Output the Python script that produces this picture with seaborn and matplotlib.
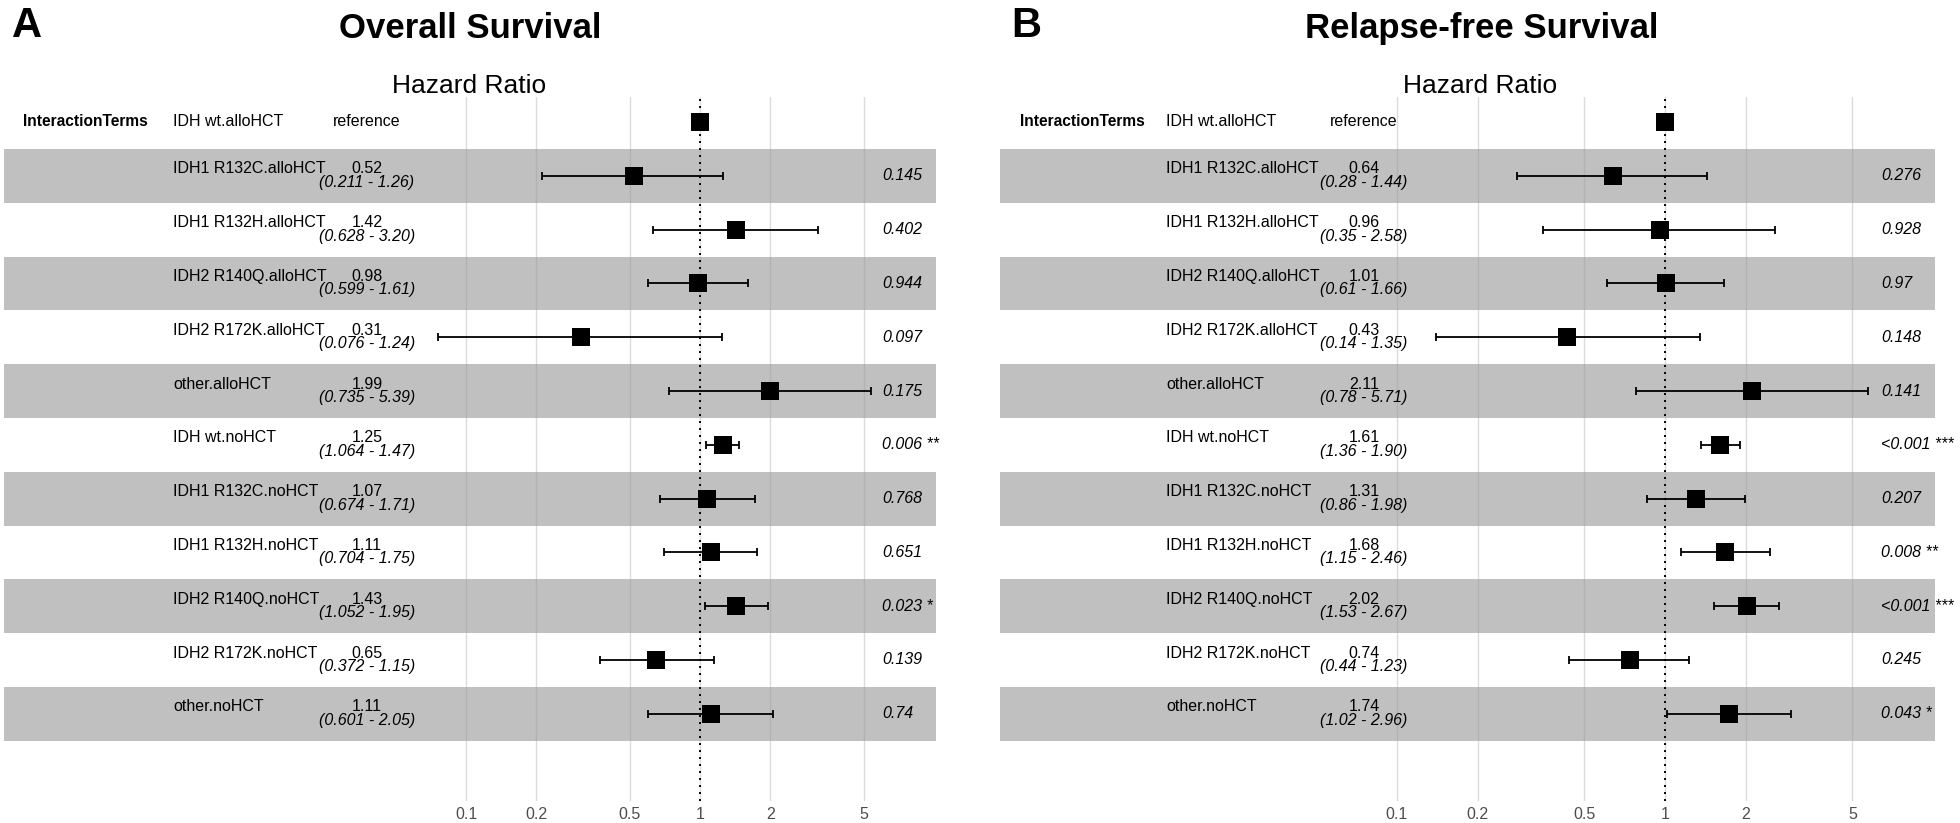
import numpy as np
import pandas as pd
import matplotlib
matplotlib.use('Agg')
import matplotlib.pyplot as plt
import matplotlib.transforms as mtransforms
from matplotlib.ticker import NullLocator
import seaborn as sns


TERMS = ["IDH wt.alloHCT", "IDH1 R132C.alloHCT", "IDH1 R132H.alloHCT", "IDH2 R140Q.alloHCT",
         "IDH2 R172K.alloHCT", "other.alloHCT", "IDH wt.noHCT", "IDH1 R132C.noHCT",
         "IDH1 R132H.noHCT", "IDH2 R140Q.noHCT", "IDH2 R172K.noHCT", "other.noHCT"]
REF_HR = 1.0

# overall survival (first term is the reference)
os_hr = ["0.52", "1.42", "0.98", "0.31", "1.99", "1.25", "1.07", "1.11", "1.43", "0.65", "1.11"]
os_lo = ["0.211", "0.628", "0.599", "0.076", "0.735", "1.064", "0.674", "0.704", "1.052", "0.372", "0.601"]
os_hi = ["1.26", "3.20", "1.61", "1.24", "5.39", "1.47", "1.71", "1.75", "1.95", "1.15", "2.05"]
os_p = ["0.145", "0.402", "0.944", "0.097", "0.175", "0.006 **", "0.768", "0.651", "0.023 *", "0.139", "0.74"]

# relapse-free survival
rfs_hr = ["0.64", "0.96", "1.01", "0.43", "2.11", "1.61", "1.31", "1.68", "2.02", "0.74", "1.74"]
rfs_lo = ["0.28", "0.35", "0.61", "0.14", "0.78", "1.36", "0.86", "1.15", "1.53", "0.44", "1.02"]
rfs_hi = ["1.44", "2.58", "1.66", "1.35", "5.71", "1.90", "1.98", "2.46", "2.67", "1.23", "2.96"]
rfs_p = ["0.276", "0.928", "0.97", "0.148", "0.141", "<0.001 ***", "0.207", "0.008 **", "<0.001 ***", "0.245", "0.043 *"]

TICKS = [0.1, 0.2, 0.5, 1, 2, 5]
TICK_LABELS = ["0.1", "0.2", "0.5", "1", "2", "5"]

W, H = 1960, 823
TOP_PX, BOTTOM_PX, ROW0_PX, ROW_PX = 97, 801, 122, 53.8
BAND = '#c0c0c0'
FS = 11.5

PANELS = [
    dict(letter='A', title='Overall Survival', band=(4, 936), one=700, dec=234, letter_x=12,
         title_x=470, hr_x=469, head_x=23, name_x=173, est_x=367, p_x=882),
    dict(letter='B', title='Relapse-free Survival', band=(1000, 1935), one=1665, dec=268, letter_x=1011,
         title_x=1482, hr_x=1480, head_x=1020, name_x=1166, est_x=1364, p_x=1881),
]


def draw_panel(fig, hr, lo, hi, pvals, lay):
    df = pd.DataFrame({
        'term': TERMS,
        'hr': [REF_HR] + [float(v) for v in hr],
        'lo': [np.nan] + [float(v) for v in lo],
        'hi': [np.nan] + [float(v) for v in hi],
        'row': np.arange(len(TERMS)),
    })
    b0, b1 = lay['band']
    ax = fig.add_axes([b0 / W, 1 - BOTTOM_PX / H, (b1 - b0) / W, (BOTTOM_PX - TOP_PX) / H])

    for r in df['row'][1::2]:
        ax.axhspan(r - 0.5, r + 0.5, color=BAND, lw=0, zorder=0)

    est = df.iloc[1:]
    ax.errorbar(est['hr'], est['row'], xerr=[est['hr'] - est['lo'], est['hi'] - est['hr']],
                fmt='none', ecolor='black', elinewidth=1.3, capsize=3, capthick=1.3, zorder=3)
    sns.scatterplot(data=df, x='hr', y='row', marker='s', s=185, color='black', linewidth=0,
                    ax=ax, zorder=4, legend=False)
    ax.axvline(REF_HR, color='black', lw=1.4, ls=(0, (1, 2.6)), zorder=3)

    ax.set_xscale('log')
    ax.set_xlim(10 ** ((b0 - lay['one']) / lay['dec']), 10 ** ((b1 - lay['one']) / lay['dec']))
    ax.set_ylim((BOTTOM_PX - ROW0_PX) / ROW_PX, (TOP_PX - ROW0_PX) / ROW_PX)
    ax.set_xticks(TICKS)
    ax.set_xticklabels(TICK_LABELS)
    ax.xaxis.set_minor_locator(NullLocator())
    ax.set_yticks([])
    ax.set_xlabel('')
    ax.set_ylabel('')
    ax.set_axisbelow(False)
    ax.xaxis.grid(True, color='#9a9a9a', alpha=0.35, lw=1.0)
    ax.yaxis.grid(False)
    ax.tick_params(axis='x', length=0, pad=4.5, labelsize=FS, labelcolor='#4d4d4d')
    ax.set_facecolor('none')
    sns.despine(ax=ax, left=True, bottom=True)

    trans = mtransforms.blended_transform_factory(fig.transFigure, ax.transData)
    ax.text(lay['head_x'] / W, 0, 'InteractionTerms', transform=trans, fontsize=11.2,
            fontweight='bold', ha='left', va='center')
    for i, row in df.iterrows():
        r = row['row']
        if i == 0:
            ax.text(lay['name_x'] / W, r, row['term'], transform=trans, fontsize=FS, ha='left', va='center')
            ax.text(lay['est_x'] / W, r, 'reference', transform=trans, fontsize=FS, ha='center', va='center')
            continue
        ax.text(lay['name_x'] / W, r - 0.13, row['term'], transform=trans, fontsize=FS, ha='left', va='center')
        ax.text(lay['est_x'] / W, r - 0.13, hr[i - 1], transform=trans, fontsize=FS, ha='center', va='center')
        ax.text(lay['est_x'] / W, r + 0.12, f"({lo[i - 1]} - {hi[i - 1]})", transform=trans, fontsize=FS,
                style='italic', ha='center', va='center')
        ax.text(lay['p_x'] / W, r, pvals[i - 1], transform=trans, fontsize=FS, style='italic',
                ha='left', va='center')

    fig.text(lay['letter_x'] / W, 1 - 37 / H, lay['letter'], fontsize=30, fontweight='bold',
             ha='left', va='baseline')
    fig.text(lay['title_x'] / W, 1 - 38 / H, lay['title'], fontsize=25, fontweight='bold',
             ha='center', va='baseline')
    fig.text(lay['hr_x'] / W, 1 - 93 / H, 'Hazard Ratio', fontsize=19, ha='center', va='baseline')
    return ax


def main():
    sns.set_theme(style='white')
    plt.rcParams['font.family'] = ['Liberation Sans', 'DejaVu Sans']
    plt.rcParams['text.color'] = 'black'
    fig = plt.figure(figsize=(W / 100, H / 100), dpi=100)
    fig.patch.set_facecolor('white')
    draw_panel(fig, os_hr, os_lo, os_hi, os_p, PANELS[0])
    draw_panel(fig, rfs_hr, rfs_lo, rfs_hi, rfs_p, PANELS[1])
    fig.savefig('out.png', dpi=100)
    plt.close(fig)


if __name__ == '__main__':
    main()
